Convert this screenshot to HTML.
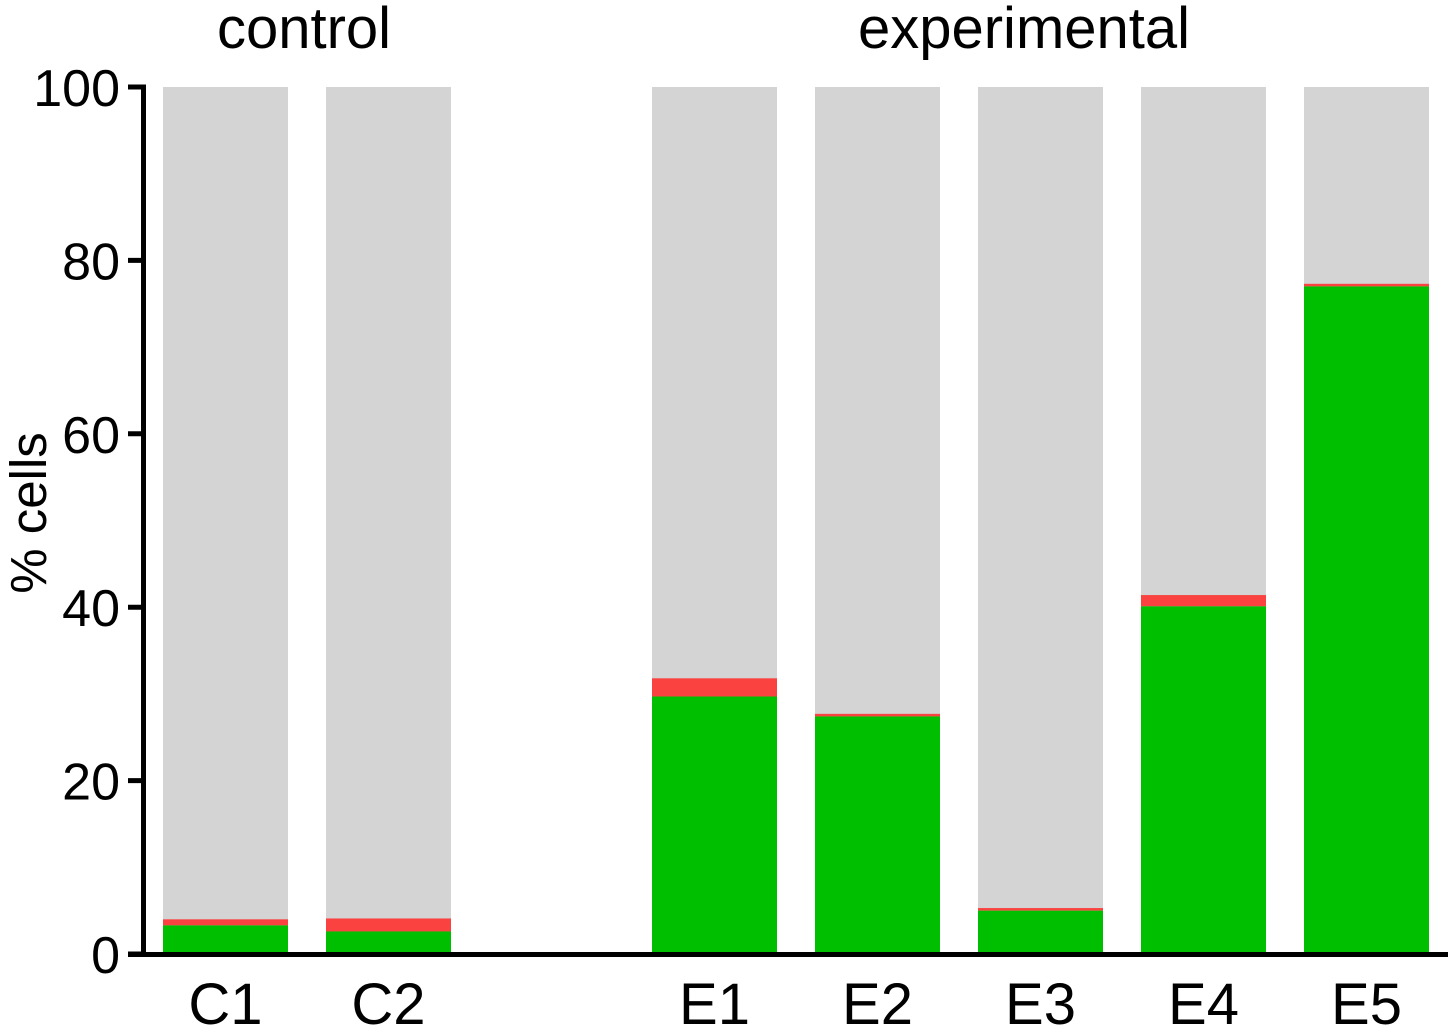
<!DOCTYPE html>
<html><head><meta charset="utf-8"><style>
html,body{margin:0;padding:0;background:#fff;}
svg{display:block;font-family:"Liberation Sans",Arial,sans-serif;}
</style></head><body>
<svg id="chart" width="1454" height="1031" viewBox="0 0 1454 1031"></svg>
<script>
const categories = ["C1","C2","E1","E2","E3","E4","E5"];
const greenValues = [3.3, 2.6, 29.7, 27.4, 5.0, 40.1, 77.0];
const redValues = [0.7, 1.5, 2.1, 0.3, 0.3, 1.3, 0.3];
const yTicks = [0, 20, 40, 60, 80, 100];
const groupTitles = ["control", "experimental"];

const NS = "http://www.w3.org/2000/svg";
const svg = document.getElementById("chart");
const barLeft = [163, 326, 652, 815, 978, 1141, 1304];
const barW = 125;
const y0 = 954, y100 = 87;
function yScale(v){ return y0 - (y0 - y100) * v / 100; }
function mk(tag, attrs){ const e = document.createElementNS(NS, tag); for (const k in attrs) e.setAttribute(k, attrs[k]); svg.appendChild(e); return e; }

categories.forEach((c, i) => {
  const x = barLeft[i];
  const g = greenValues[i], r = redValues[i];
  const bg = mk("rect", {x: x, y: yScale(100), width: barW, height: yScale(0) - yScale(100), fill: "#d4d4d4"});
  
  
  const red = mk("rect", {x: x, y: yScale(g + r), width: barW, height: yScale(g) - yScale(g + r), fill: "#fa4341"});
  
  
  const gr = mk("rect", {x: x, y: yScale(g), width: barW, height: yScale(0) - yScale(g), fill: "#00bf00"});
  
  
  const t = mk("text", {x: x + barW / 2, y: 1024, "text-anchor": "middle", "font-size": 58});
  t.textContent = c;
  
  
});

const ya = mk("line", {x1: 143.5, y1: 85, x2: 143.5, y2: 957, stroke: "#000", "stroke-width": 5});


const xa = mk("line", {x1: 128, y1: 954.5, x2: 1448, y2: 954.5, stroke: "#000", "stroke-width": 5});



yTicks.forEach(v => {
  const y = yScale(v);
  const tk = mk("line", {x1: 128, y1: y, x2: 146, y2: y, stroke: "#000", "stroke-width": 5});
  
  
  const t = mk("text", {x: 120, y: y + 19, "text-anchor": "end", "font-size": 52});
  t.textContent = v;
  
  
});

const yt = mk("text", {x: 0, y: 0, "text-anchor": "middle", "font-size": 51, transform: "translate(46,513) rotate(-90)"});
yt.textContent = "% cells";



const g1 = mk("text", {x: 304, y: 48, "text-anchor": "middle", "font-size": 58});
g1.textContent = groupTitles[0];


const g2 = mk("text", {x: 1024, y: 48, "text-anchor": "middle", "font-size": 58});
g2.textContent = groupTitles[1];


</script>
</body></html>
